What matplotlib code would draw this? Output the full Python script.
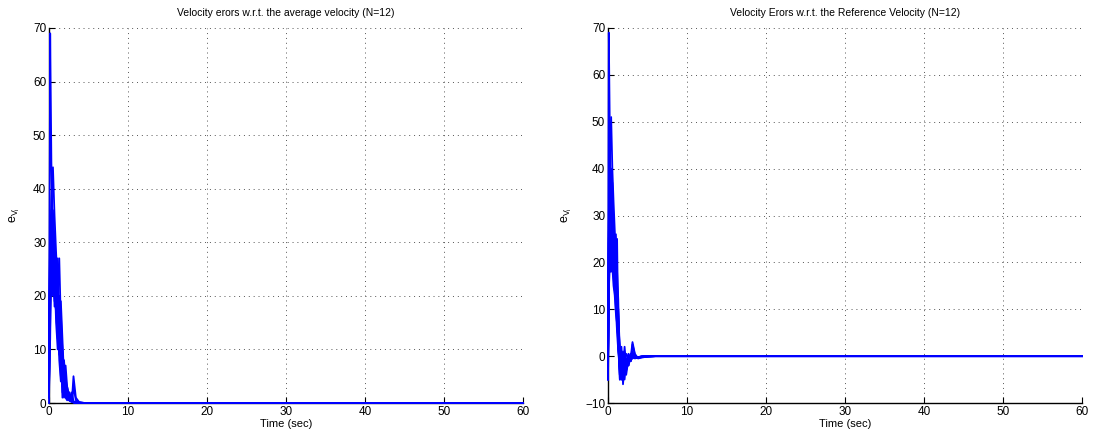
import matplotlib
matplotlib.use("Agg")
import matplotlib.pyplot as plt

plt.rcParams['font.family'] = ['Liberation Sans', 'DejaVu Sans']
plt.rcParams['mathtext.fontset'] = 'custom'
plt.rcParams['mathtext.rm'] = 'Liberation Sans'
plt.rcParams['mathtext.it'] = 'Liberation Sans'

# ---------------- data ----------------
titles = ["Velocity erors w.r.t. the average velocity (N=12)",
          "Velocity Erors w.r.t. the Reference Velocity (N=12)"]
xlabel = "Time (sec)"
ylabel = r"$\mathregular{e_{V_i}}$"
xticks = [0, 10, 20, 30, 40, 50, 60]
yticks_left = [0, 10, 20, 30, 40, 50, 60, 70]
yticks_right = [-10, 0, 10, 20, 30, 40, 50, 60, 70]

# shared time samples (sec)
t_left = [0, 0.15, 0.3, 0.5, 0.7, 0.9, 1.1, 1.3, 1.5, 1.7, 1.9, 2.1, 2.3, 2.6, 2.9, 3.1, 3.4, 3.8, 4.5, 60]
# velocity error norms of the 12 agents w.r.t. the average velocity
left_1 = [5, 69, 45, 30, 22, 26, 18, 12, 8, 5, 3, 2, 1, 0.5, 0.3, 0.2, 0.1, 0.05, 0, 0]
left_2 = [10, 30, 38, 44, 35, 28, 22, 27, 15, 10, 6, 4, 2, 1, 0.5, 0.3, 0.1, 0, 0, 0]
left_3 = [0, 20, 35, 25, 30, 20, 15, 10, 19, 12, 5, 7, 3, 1, 0.5, 0.2, 0.1, 0, 0, 0]
left_4 = [8, 25, 30, 36, 28, 20, 17, 15, 12, 2, 8, 4, 2, 1, 0.5, 5, 1, 0.2, 0, 0]
left_5 = [3, 15, 28, 33, 25, 18, 27, 14, 6, 9, 3, 2, 1, 0.6, 0.3, 0.2, 0.1, 0, 0, 0]
left_6 = [12, 35, 22, 30, 20, 17, 12, 18, 10, 1, 6, 2, 1, 0.4, 0.2, 0.1, 0, 0, 0, 0]
left_7 = [6, 22, 33, 28, 18, 22, 16, 8, 4, 7, 2, 3, 1, 0.5, 2, 0.3, 0.1, 0, 0, 0]
left_8 = [2, 18, 25, 35, 30, 24, 20, 16, 11, 6, 4, 1, 3, 1, 0.5, 0.2, 0.1, 0, 0, 0]
left_9 = [9, 28, 20, 26, 32, 21, 14, 9, 17, 8, 2, 5, 2, 0.8, 0.3, 0.1, 0, 0, 0, 0]
left_10 = [4, 12, 30, 22, 26, 19, 25, 13, 7, 3, 7, 2, 1, 0.5, 0.2, 3, 0.5, 0.1, 0, 0]
left_11 = [7, 33, 27, 20, 24, 15, 10, 20, 9, 5, 1, 4, 2, 1, 0.4, 0.2, 0.1, 0, 0, 0]
left_12 = [1, 24, 36, 29, 19, 23, 14, 11, 5, 4, 3, 1, 0.5, 2, 0.3, 0.1, 0, 0, 0, 0]
left_series = [left_1, left_2, left_3, left_4, left_5, left_6,
               left_7, left_8, left_9, left_10, left_11, left_12]

t_right = [0, 0.1, 0.25, 0.4, 0.55, 0.7, 0.85, 1.0, 1.15, 1.3, 1.5, 1.7, 1.9, 2.1, 2.3, 2.6, 2.9, 3.1, 3.4, 3.8, 4.3, 5.0, 6.0, 60]
# velocity errors of the 12 agents w.r.t. the reference velocity
right_1 = [-5, 69, 45, 32, 28, 22, 18, 12, 8, 2, -3, -2, 1, -1, 0.5, -0.5, 0.5, 0.2, -0.3, -0.2, -0.1, -0.05, 0, 0]
right_2 = [-3, 30, 45, 51, 40, 33, 27, 22, 15, 8, -2, -4, 0, -3, -1, -2, 0, 3, 0.5, -0.5, -0.3, -0.1, 0, 0]
right_3 = [-2, 20, 35, 30, 37, 28, 20, 26, 18, 12, -5, 2, -4, -1, -2, 0, -1, 0.3, -0.5, -0.3, -0.2, -0.1, 0, 0]
right_4 = [-4, 25, 30, 40, 33, 25, 22, 17, 25, 4, -4, -1, -3, 2, -2, -1, 0.5, -0.2, -0.4, -0.3, -0.2, -0.05, 0, 0]
right_5 = [-5, 15, 26, 22, 30, 27, 19, 14, 10, 6, 0, -5, -2, -5, -1, 0.5, -1, 2.5, 0.3, -0.4, -0.2, -0.1, 0, 0]
right_6 = [-1, 18, 22, 28, 24, 20, 15, 10, 5, 1, -3, 1, -6, -2, -3, -1, -0.5, 0, -0.3, -0.2, -0.1, 0, 0, 0]
right_7 = [-3, 26, 33, 35, 27, 22, 17, 21, 12, 7, 2, -3, -1, -4, -1, -2, 0.5, -0.5, -0.2, -0.2, -0.1, 0, 0, 0]
right_8 = [-2, 22, 18, 25, 20, 24, 16, 12, 15, 9, -1, -4, -2, 0, -3, -1, -1, 0.2, -0.3, -0.3, -0.1, 0, 0, 0]
right_9 = [-4, 28, 38, 30, 26, 19, 23, 15, 9, 3, -5, 0, -3, -1, -2, 0, -0.5, 1, -0.2, -0.2, -0.1, 0, 0, 0]
right_10 = [-5, 14, 20, 18, 22, 17, 14, 18, 11, 2, -2, -5, -1, -3, -0.5, -1, 0, -0.3, -0.4, -0.3, -0.1, 0, 0, 0]
right_11 = [-1, 24, 28, 34, 29, 26, 21, 16, 13, 10, 1, -2, -5, -2, -1, -1.5, 0, 0.5, -0.2, -0.2, -0.1, 0, 0, 0]
right_12 = [-3, 16, 24, 21, 19, 15, 13, 9, 7, 4, -4, -1, 0, -2, -4, -0.5, -1, 0, -0.3, -0.2, -0.1, 0, 0, 0]
right_series = [right_1, right_2, right_3, right_4, right_5, right_6,
                right_7, right_8, right_9, right_10, right_11, right_12]

# ---------------- figure ----------------
W, H = 1093, 434
fig = plt.figure(figsize=(W / 100, H / 100), dpi=100)
ax1 = fig.add_axes([49 / W, 31 / H, 474 / W, 375 / H])
ax2 = fig.add_axes([608 / W, 31 / H, 474 / W, 375 / H])

blue = '#0000FF'

def style(ax, yticks, ylim, title):
    ax.set_xlim(0, 60)
    ax.set_ylim(*ylim)
    ax.set_xticks(xticks)
    ax.set_yticks(yticks)
    ax.grid(True, color='#555555', linestyle=(0, (1, 4)), linewidth=0.7)
    ax.set_axisbelow(True)
    for s in ['top', 'right']:
        ax.spines[s].set_visible(False)
    for s in ['left', 'bottom']:
        ax.spines[s].set_linewidth(1.0)
    ax.tick_params(direction='in', length=4, width=0.8, labelsize=8.5, pad=2)
    ax.set_title(title, fontsize=7.5, pad=9)
    ax.set_xlabel(xlabel, fontsize=8, labelpad=1)
    ax.set_ylabel(ylabel, fontsize=9, labelpad=8)

for ys in left_series:
    ax1.plot(t_left, ys, color=blue, linewidth=1.3, clip_on=False, zorder=3)
style(ax1, yticks_left, (0, 70), titles[0])

for ys in right_series:
    ax2.plot(t_right, ys, color=blue, linewidth=1.3, clip_on=False, zorder=3)
style(ax2, yticks_right, (-10, 70), titles[1])

fig.savefig("out.png", dpi=100)
